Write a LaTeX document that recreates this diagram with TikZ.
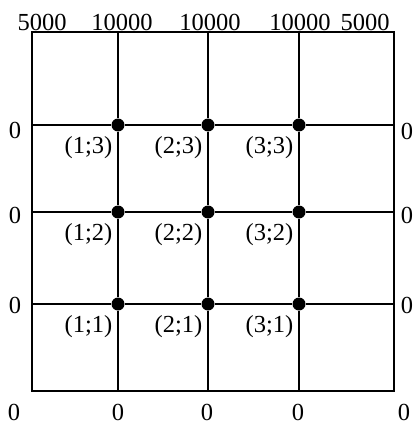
\documentclass[tikz,border=0pt]{standalone}
\usepackage{fontspec}
\setmainfont{Liberation Serif}
\usetikzlibrary{positioning}

\begin{document}
\begin{tikzpicture}[x=1pt,y=-1pt,line width=1.4pt]
  \tikzstyle{every node}=[font=\fontsize{24.5}{29}\selectfont,inner sep=0pt]
  \tikzstyle{knot}=[circle,fill=black,minimum size=13pt]
  \tikzstyle{cell}=[anchor=north east,xshift=-5pt,yshift=-11pt]

  \useasboundingbox (0,0) rectangle (418,425);

  % frame
  \coordinate (NW) at (32,32);
  \coordinate (SE) at (394,391);
  \draw[line width=1.8pt] (NW) rectangle (SE);

  % knots
  \node[knot] (k13) at (118,125) {};
  \node[knot] (k23) at (208,125) {};
  \node[knot] (k33) at (299,125) {};
  \node[knot] (k12) at (118,212) {};
  \node[knot] (k22) at (208,212) {};
  \node[knot] (k32) at (299,212) {};
  \node[knot] (k11) at (118,304) {};
  \node[knot] (k21) at (208,304) {};
  \node[knot] (k31) at (299,304) {};

  % line ends on the frame
  \coordinate (t1) at (118,32);
  \coordinate (t2) at (208,32);
  \coordinate (t3) at (299,32);
  \coordinate (b1) at (118,391);
  \coordinate (b2) at (208,391);
  \coordinate (b3) at (299,391);
  \coordinate (w3) at (32,125);
  \coordinate (w2) at (32,212);
  \coordinate (w1) at (32,304);
  \coordinate (e3) at (394,125);
  \coordinate (e2) at (394,212);
  \coordinate (e1) at (394,304);

  \draw (t1) -- (k13) -- (k12) -- (k11) -- (b1);
  \draw (t2) -- (k23) -- (k22) -- (k21) -- (b2);
  \draw (t3) -- (k33) -- (k32) -- (k31) -- (b3);
  \draw (w3) -- (k13) -- (k23) -- (k33) -- (e3);
  \draw (w2) -- (k12) -- (k22) -- (k32) -- (e2);
  \draw (w1) -- (k11) -- (k21) -- (k31) -- (e1);

  % knot labels
  \node[cell] (c13) at (k13.center) {(1;3)};
  \node[cell] (c23) at (k23.center) {(2;3)};
  \node[cell] (c33) at (k33.center) {(3;3)};
  \node[cell] (c12) at (k12.center) {(1;2)};
  \node[cell] (c22) at (k22.center) {(2;2)};
  \node[cell] (c32) at (k32.center) {(3;2)};
  \node[cell] (c11) at (k11.center) {(1;1)};
  \node[cell] (c21) at (k21.center) {(2;1)};
  \node[cell] (c31) at (k31.center) {(3;1)};

  % top values
  \node[anchor=base] (q0) at (42,31) {5000};
  \node[anchor=base] (q1) at (122,31) {10000};
  \node[anchor=base] (q2) at (210,31) {10000};
  \node[anchor=base] (q3) at (300,31) {10000};
  \node[anchor=base] (q4) at (365,31) {5000};

  % side values
  \node (l3) at (15,130) {0};
  \node (l2) at (15,215) {0};
  \node (l1) at (15,305) {0};
  \node (r3) at (407,131) {0};
  \node (r2) at (407,215) {0};
  \node (r1) at (407,305) {0};

  % bottom values
  \node (u0) at (14,412) {0};
  \node (u1) at (118,412) {0};
  \node (u2) at (207,412) {0};
  \node (u3) at (298,412) {0};
  \node (u4) at (404,412) {0};
\end{tikzpicture}
\end{document}
